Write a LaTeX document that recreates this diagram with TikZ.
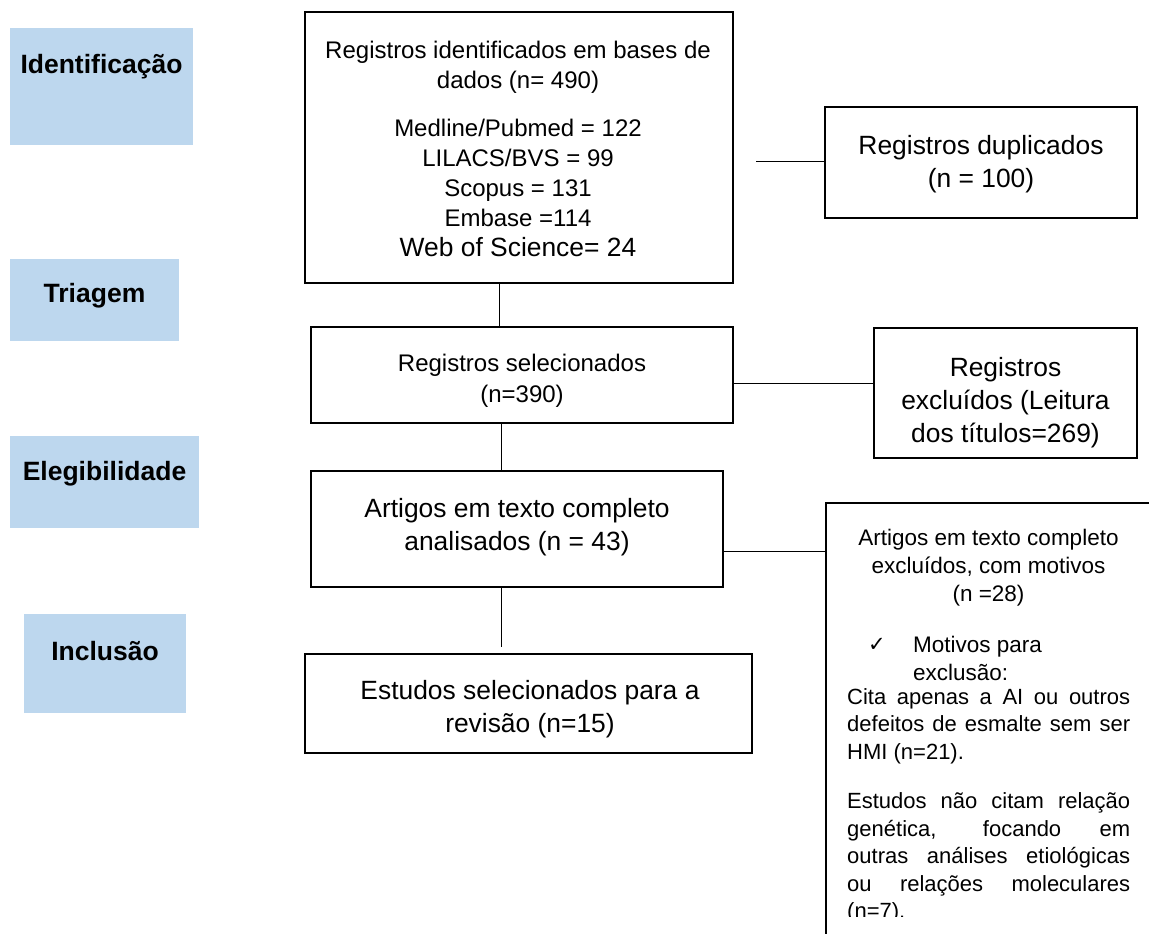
\documentclass[tikz,border=0pt]{standalone}
\usepackage{fontspec}
\setmainfont{Liberation Sans}
\newfontfamily\djv{DejaVu Sans}
\definecolor{stagefill}{RGB}{189,215,238}
\newcommand{\mlines}[1]{\begin{tabular}[t]{@{}c@{}}#1\end{tabular}}
\newcommand{\llines}[1]{\begin{tabular}[t]{@{}l@{}}#1\end{tabular}}
\newcommand{\jl}[1]{\makebox[283pt][s]{#1}}
\begin{document}
\begin{tikzpicture}[x=1pt,y=-1pt,
  box/.style={draw=black, line width=1.5pt, inner sep=0pt},
  stagebox/.style={fill=stagefill, inner sep=0pt},
  stagetxt/.style={anchor=base, inner sep=0pt, font=\bfseries\fontsize{26.5}{30}\selectfont},
  conn/.style={line width=1pt, black},
  txtA/.style={anchor=base, inner sep=0pt, font=\fontsize{24}{30}\selectfont},
  txtB/.style={anchor=base, inner sep=0pt, font=\fontsize{26.4}{33}\selectfont},
  txtC/.style={anchor=base, inner sep=0pt, font=\fontsize{22.5}{28}\selectfont},
  txtP/.style={anchor=base west, inner sep=0pt, font=\fontsize{22}{27.5}\selectfont}]
\useasboundingbox (0,0) rectangle (1149,934);
\clip (0,0) rectangle (1149,934);

% stage labels
\node[stagebox, minimum width=183pt, minimum height=117pt] (s1) at (101.5,86.5) {};
\node[stagetxt] (s1t) at (101.5,74) {Identificação};
\node[stagebox, minimum width=169pt, minimum height=82pt] (s2) at (94.5,300) {};
\node[stagetxt] (s2t) at (94.5,302) {Triagem};
\node[stagebox, minimum width=189pt, minimum height=92pt] (s3) at (104.5,482) {};
\node[stagetxt] (s3t) at (104.5,480) {Elegibilidade};
\node[stagebox, minimum width=162pt, minimum height=99pt] (s4) at (105,663.5) {};
\node[stagetxt] (s4t) at (105,660) {Inclusão};

% main boxes
\node[box, minimum width=428pt, minimum height=271pt] (b1) at (519,147.5) {};
\node[txtA] (b1t) at (518,59) {\mlines{Registros identificados em bases de\\dados (n= 490)\\[18pt]Medline/Pubmed = 122\\LILACS/BVS = 99\\Scopus = 131\\Embase =114\\{\fontsize{26.4}{30}\selectfont Web of Science= 24}}};

\node[box, minimum width=422pt, minimum height=96pt] (b2) at (522,375) {};
\node[txtA] (b2t) at (522,371) {\fontsize{24}{31}\selectfont\mlines{Registros selecionados\\(n=390)}};

\node[box, minimum width=412pt, minimum height=116pt] (b3) at (517,529) {};
\node[txtB] (b3t) at (517,517.5) {\mlines{Artigos em texto completo\\analisados (n = 43)}};

\node[box, minimum width=447pt, minimum height=99pt] (b4) at (528.5,703.5) {};
\node[txtB] (b4t) at (530,699.5) {\mlines{Estudos selecionados para a\\revisão (n=15)}};

% side boxes
\node[box, minimum width=312pt, minimum height=111pt] (dup) at (981,162.5) {};
\node[txtB] (dupt) at (981,154.5) {\mlines{Registros duplicados\\(n = 100)}};

\node[box, minimum width=263pt, minimum height=130pt] (ex) at (1005.5,393) {};
\node[txtB] (ext) at (1005.5,376.5) {\mlines{Registros\\excluídos (Leitura\\dos títulos=269)}};

\node[box, minimum width=374pt, minimum height=497pt] (mot) at (1013,751.5) {};
\node[txtC] (mott) at (988.5,545) {\mlines{Artigos em texto completo\\excluídos, com motivos\\(n =28)}};
\node[anchor=base, inner sep=0pt, font=\djv\fontsize{21}{24}\selectfont] (chk) at (877,651) {✓};
\node[txtC, anchor=base west] (motr) at (913,652) {\llines{Motivos para\\exclusão:}};
\begin{scope}
\clip (800,0) rectangle (1149,916);
\node[txtP] (para) at (847,704) {\llines{\jl{Cita apenas a AI ou outros}\\\jl{defeitos de esmalte sem ser}\\HMI (n=21).\\[22pt]\jl{Estudos não citam relação}\\\jl{genética, focando em}\\\jl{outras análises etiológicas}\\\jl{ou relações moleculares}\\(n=7).}};
\end{scope}

% connectors
\draw[conn] ([xshift=-20pt]b1.south) -- ([xshift=-20pt]b1.south |- b2.north);
\draw[conn] ([xshift=-21pt]b2.south) -- ([xshift=-21pt]b2.south |- b3.north);
\draw[conn, shorten >=6pt] ([xshift=-16pt]b3.south) -- ([xshift=-16pt]b3.south |- b4.north);
\coordinate (d0) at (756,161);
\draw[conn] (d0) -- (d0 -| dup.west);
\draw[conn] ([yshift=-8pt]b2.east) -- ([yshift=-8pt]b2.east -| ex.west);
\draw[conn] ([yshift=-22.5pt]b3.east) -- ([yshift=-22.5pt]b3.east -| mot.west);
\end{tikzpicture}
\end{document}
